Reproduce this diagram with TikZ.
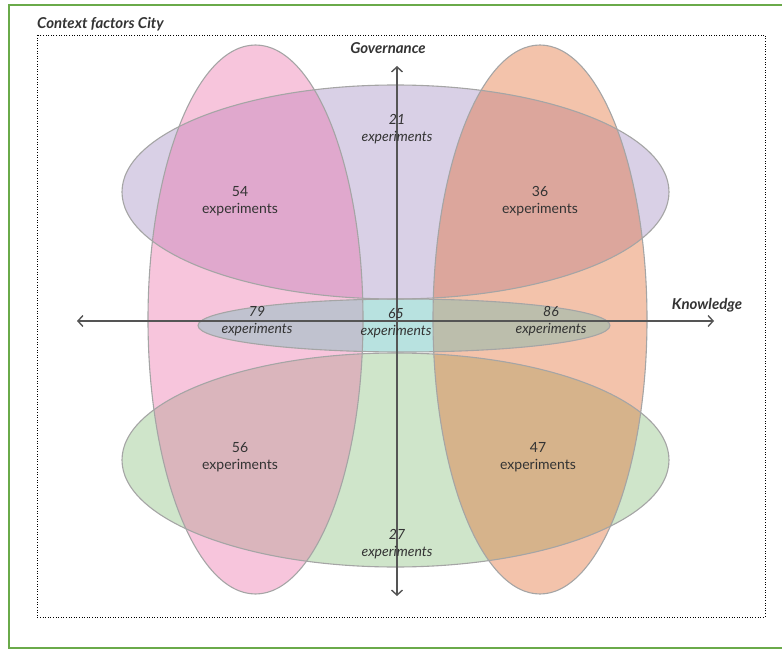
\documentclass[tikz,border=0pt]{standalone}
\usepackage{fontspec}
\setmainfont{Lato}
\usepackage{xcolor}
\usetikzlibrary{arrows.meta,positioning}

\definecolor{lavender}{RGB}{217,208,230}
\definecolor{mint}{RGB}{207,229,202}
\definecolor{hotpink}{RGB}{235,110,168}
\definecolor{peach}{RGB}{225,105,45}
\definecolor{tealmid}{RGB}{184,226,224}
\definecolor{slatemid}{RGB}{192,194,207}
\definecolor{olivemid}{RGB}{188,190,172}
\definecolor{framegreen}{RGB}{106,170,74}
\definecolor{txtgrey}{RGB}{51,51,51}
\definecolor{axisgrey}{RGB}{85,85,85}
\definecolor{rimgrey}{RGB}{165,165,165}

\begin{document}
\begin{tikzpicture}[
  x=1pt, y=-1pt,
  count/.style={align=center, text=txtgrey, inner sep=0pt, font=\fontsize{14}{17}\selectfont},
  countit/.style={count, font=\fontsize{14}{17}\selectfont\itshape},
  axlabel/.style={text=txtgrey, inner sep=0pt, font=\fontsize{15}{17}\selectfont\bfseries\itshape},
  ring/.style={draw=rimgrey, line width=1.1pt},
  axisline/.style={{Straight Barb[length=5pt,width=11pt]}-{Straight Barb[length=5pt,width=11pt]}, draw=axisgrey, line width=1.4pt}
]
\useasboundingbox (0,0) rectangle (782,650);

% frame and context box
\draw[framegreen, line width=2pt] (782,5) -- (9,5) -- (9,648) -- (782,648);
\draw[black, line width=0.8pt, dash pattern=on 1pt off 1.6pt] (37,35) rectangle (765,617);
\node[axlabel, anchor=base west] (title) at (37,29) {Context factors City};

% horizontal sets
\fill[lavender] (395.5,192) ellipse [x radius=273.5pt, y radius=107pt];
\fill[mint] (395.5,460) ellipse [x radius=273.5pt, y radius=107pt];

% vertical sets
\fill[hotpink, fill opacity=0.4] (255.5,319.5) ellipse [x radius=107.5pt, y radius=274.5pt];
\fill[peach, fill opacity=0.4] (540,319.5) ellipse [x radius=107pt, y radius=274.5pt];

% middle band
\fill[tealmid] (404,325.5) ellipse [x radius=206pt, y radius=26.5pt];
\begin{scope}
  \clip (255.5,319.5) ellipse [x radius=107.5pt, y radius=274.5pt];
  \fill[slatemid] (404,325.5) ellipse [x radius=206pt, y radius=26.5pt];
\end{scope}
\begin{scope}
  \clip (540,319.5) ellipse [x radius=107pt, y radius=274.5pt];
  \fill[olivemid] (404,325.5) ellipse [x radius=206pt, y radius=26.5pt];
\end{scope}

% outlines
\draw[ring] (395.5,192) ellipse [x radius=273.5pt, y radius=107pt];
\draw[ring] (395.5,460) ellipse [x radius=273.5pt, y radius=107pt];
\draw[ring] (255.5,319.5) ellipse [x radius=107.5pt, y radius=274.5pt];
\draw[ring] (540,319.5) ellipse [x radius=107pt, y radius=274.5pt];
\draw[ring] (404,325.5) ellipse [x radius=206pt, y radius=26.5pt];

% axes
\coordinate (gtop) at (397,66);
\coordinate (gbot) at (397,596);
\coordinate (kleft) at (77,321);
\coordinate (kright) at (714,321);
\draw[axisline] (gtop) -- (gbot);
\draw[axisline] (kleft) -- (kright);
\node[axlabel, anchor=base] (gov) at (388,54) {Governance};
\node[axlabel, anchor=base] (know) at (707,309) {Knowledge};

% counts
\node[countit] (n21) at (397,129) {21\\experiments};
\node[count] (n54) at (240,201) {54\\experiments};
\node[count] (n36) at (540,201) {36\\experiments};
\node[countit] (n79) at (257,321) {79\\experiments};
\node[countit] (n65) at (396,323) {65\\experiments};
\node[countit] (n86) at (551,321) {86\\experiments};
\node[count] (n56) at (240,457) {56\\experiments};
\node[count] (n47) at (538,457) {47\\experiments};
\node[countit] (n27) at (397,544) {27\\experiments};
\end{tikzpicture}
\end{document}
